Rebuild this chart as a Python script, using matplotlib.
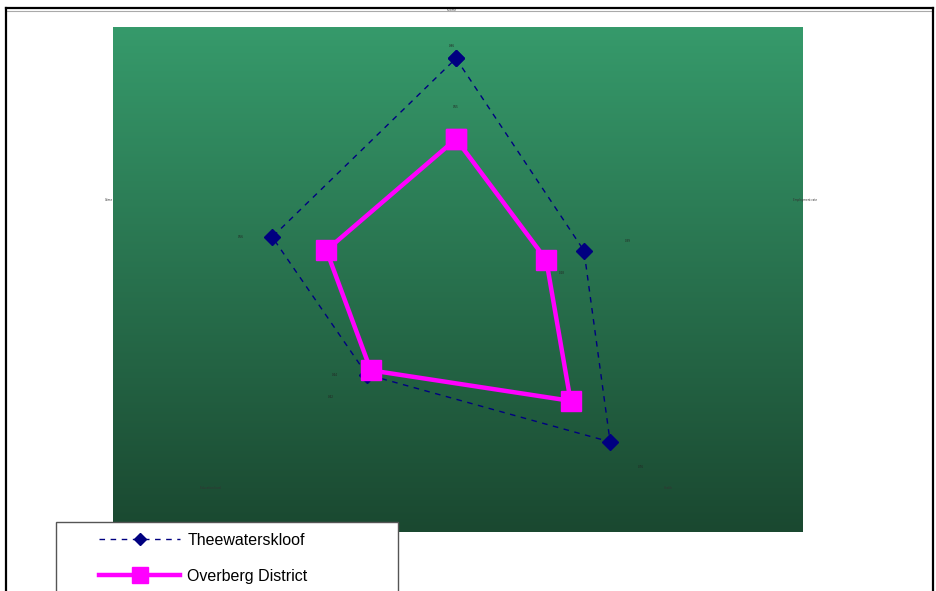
import numpy as np
import matplotlib
matplotlib.use("Agg")
import matplotlib.pyplot as plt
from matplotlib.patches import Rectangle
from matplotlib.lines import Line2D

# Radar categories, clockwise from the top spoke
categories = ["Income", "Employment rate", "Health", "Education level", "Crime"]
series_names = ["Theewaterskloof", "Overberg District"]
theewaterskloof = [0.86, 0.39, 0.76, 0.44, 0.56]
overberg = [0.55, 0.275, 0.565, 0.42, 0.395]

W, H = 936, 591
fig = plt.figure(figsize=(W / 100, H / 100), dpi=100)
fig.patch.set_facecolor("white")

# plot area in pixels (left, top, right, bottom)
pl, pt, pr, pb = 113, 27, 803, 532
ax = fig.add_axes([pl / W, 1 - pb / H, (pr - pl) / W, (pb - pt) / H])
cx_px, cy_px = 456, 282
rx_px, ry_px = 345, 260
xlim = ((pl - cx_px) / rx_px, (pr - cx_px) / rx_px)
ylim = ((cy_px - pb) / ry_px, (cy_px - pt) / ry_px)
ax.set_xlim(*xlim)
ax.set_ylim(*ylim)
ax.axis("off")

# vertical green gradient background
top_c = np.array([54, 154, 107]) / 255
bot_c = np.array([26, 72, 48]) / 255
t = np.linspace(0, 1, 256)[:, None]
grad = (top_c[None, :] * (1 - t) + bot_c[None, :] * t)[:, None, :]
ax.imshow(grad, extent=[xlim[0], xlim[1], ylim[0], ylim[1]], aspect="auto",
          origin="upper", zorder=0)

n = len(categories)
angles = np.deg2rad(90 - 72 * np.arange(n))


def to_xy(vals):
    v = np.asarray(vals, dtype=float)
    x = v * np.cos(angles)
    y = v * np.sin(angles)
    return np.append(x, x[0]), np.append(y, y[0])


tx, ty = to_xy(theewaterskloof)
ox, oy = to_xy(overberg)

ax.plot(tx, ty, color="#000080", lw=1.0, ls=(0, (4, 4)), marker="D",
        markersize=8, markerfacecolor="#000080", markeredgecolor="#000080",
        zorder=3, label=series_names[0])
ax.plot(ox, oy, color="#ff00ff", lw=3.2, marker="s", markersize=14,
        markerfacecolor="#ff00ff", markeredgecolor="#ff00ff", zorder=4,
        label=series_names[1])

# category labels around the outer ring (pixel nudges, alignment)
label_place = [((-4, 12), "center"), ((9, 2), "left"), ((9, 4), "center"),
               ((-43, 4), "center"), ((-15, 2), "right")]
for a, name, (off, ha) in zip(angles, categories, label_place):
    ax.annotate(name, (np.cos(a), np.sin(a)), xytext=off,
                textcoords="offset pixels", fontsize=2, color="#333333",
                ha=ha, va="center", annotation_clip=False, zorder=5)

# small value labels next to the points
t_off = [(-4, 12), (44, 10), (31, -25), (-32, 0), (-31, 0)]
for (x, y, v, d) in zip(tx[:-1], ty[:-1], theewaterskloof, t_off):
    ax.annotate(f"{v:.2f}", (x, y), xytext=d, textcoords="offset pixels",
                fontsize=2, color="#222222", ha="center", va="center", zorder=5)
o_off = [(0, 32), (16, -13), None, (-40, -27), None]
for (x, y, v, d) in zip(ox[:-1], oy[:-1], overberg, o_off):
    if d is None:
        continue
    ax.annotate(f"{v:.2f}", (x, y), xytext=d, textcoords="offset pixels",
                fontsize=2, color="#222222", ha="center", va="center", zorder=5)

# outer chart border
fig.add_artist(Line2D([6 / W, 933 / W], [1 - 8 / H, 1 - 8 / H],
                      transform=fig.transFigure, color="black", lw=1.6))
fig.add_artist(Line2D([7 / W, 933 / W], [1 - 10.5 / H, 1 - 10.5 / H],
                      transform=fig.transFigure, color="#aaaaaa", lw=0.8))
fig.add_artist(Line2D([6 / W, 6 / W], [0, 1 - 8 / H],
                      transform=fig.transFigure, color="black", lw=1.6))
fig.add_artist(Line2D([933 / W, 933 / W], [0, 1 - 8 / H],
                      transform=fig.transFigure, color="black", lw=1.6))

# legend box
fig.add_artist(Rectangle((56 / W, -0.01), (398 - 56) / W, 0.01 + (H - 522) / H,
                         transform=fig.transFigure, facecolor="white",
                         edgecolor="#555555", lw=1.0, zorder=6))
handles, labels = ax.get_legend_handles_labels()
leg = fig.legend(handles, labels, loc="upper left",
                 bbox_to_anchor=(86 / W, 1 - 520 / H), frameon=False,
                 handlelength=5.1, handletextpad=0.45, markerscale=0.8,
                 labelspacing=1.3, borderpad=0.3,
                 prop={"family": "Liberation Sans", "size": 11.5})
leg.set_zorder(7)

fig.savefig("out.png", dpi=100, facecolor="white")
